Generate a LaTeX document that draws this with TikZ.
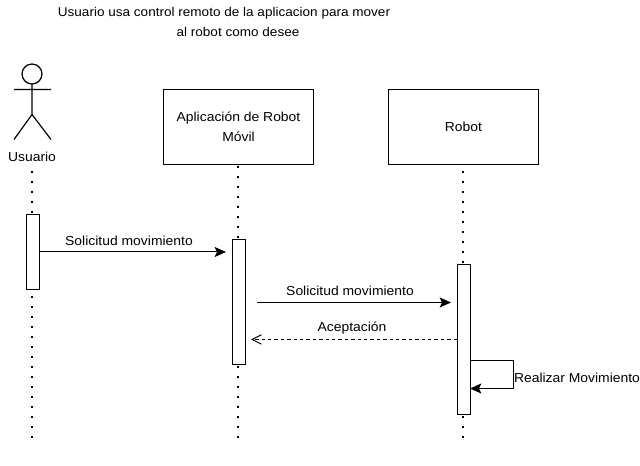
\documentclass[tikz,border=0pt]{standalone}
\usepackage{fontspec}
\setmainfont[FakeStretch=1.07]{Liberation Sans}
\usetikzlibrary{arrows.meta}
\tikzset{
  x=0.75pt,y=-0.75pt,
  every node/.style={font=\fontsize{9.75}{15}\selectfont,inner sep=0pt,outer sep=0pt,align=center},
  lifebox/.style={draw=black,fill=white,line width=0.75pt,minimum width=112.5pt,minimum height=56.25pt},
  activation/.style={draw=black,fill=white,line width=0.75pt,minimum width=9.75pt},
  lifeline/.style={line width=1.5pt,dash pattern=on 1.5pt off 6pt,black},
  msg/.style={draw=black,line width=0.75pt,-{Stealth[length=8.5pt,width=7.5pt,inset=1.8pt]}},
  reply/.style={draw=black,line width=0.75pt,dash pattern=on 2.6pt off 2.2pt,-{Straight Barb[length=7pt,width=7pt]}},
  actorline/.style={draw=black,line width=0.9pt},
  label/.style={fill=none}
}
\begin{document}
\begin{tikzpicture}
\useasboundingbox (0,0) rectangle (640,466);
\fill[white] (0,0) rectangle (640,466);
\node[font=\fontsize{9.5}{15}\selectfont] (title) at (238,21.5) {Usuario usa control remoto de la aplicacion para mover\rule{21pt}{0pt}\\al robot como desee};
% actor
\node[draw=black,circle,line width=0.9pt,minimum size=15pt] (head) at (32,74) {};
\coordinate (hip) at (32,114.5);
\coordinate (armL) at (14,89.5);
\coordinate (armR) at (51,89.5);
\coordinate (legL) at (14,139.5);
\coordinate (legR) at (51,139.5);
\draw[actorline] (head.south) -- (hip) (armL) -- (armR) (legL) -- (hip) -- (legR);
\node (usuario) at (32,157) {Usuario};
% boxes
\node[lifebox] (app) at (238.5,127) {Aplicación de Robot\\Móvil};
\node[lifebox] (robot) at (463.5,127) {Robot};
% activations
\node[activation,minimum height=56.25pt] (actU) at (32.5,252) {};
\node[activation,minimum height=93.75pt] (actA) at (238.5,302) {};
\node[activation,minimum height=112.5pt] (actR) at (463.5,339.5) {};
% lifelines
\coordinate (uTop) at (32,171);
\coordinate (uLow) at (32,296);
\coordinate (uEnd) at (32,439);
\coordinate (aTop) at (238,166);
\coordinate (aLow) at (238,366);
\coordinate (aEnd) at (238,439);
\coordinate (rTop) at (463,171);
\coordinate (rLow) at (463,416);
\coordinate (rEnd) at (463,439);
\draw[lifeline] (uTop) -- (actU.north -| uTop);
\draw[lifeline] (uLow) -- (uEnd);
\draw[lifeline] (aTop) -- (actA.north -| aTop);
\draw[lifeline] (aLow) -- (aEnd);
\draw[lifeline] (rTop) -- (actR.north -| rTop);
\draw[lifeline] (rLow) -- (rEnd);
% messages
\coordinate (m1e) at (226,252);
\coordinate (m2s) at (257,302.5);
\coordinate (m2e) at (451,302.5);
\coordinate (m3s) at (457,339.5);
\coordinate (m3e) at (251,339.5);
\coordinate (s1) at (470,360.5);
\coordinate (s2) at (513.7,360.5);
\coordinate (s3) at (513.7,388.5);
\coordinate (s4) at (470,388.5);
\draw[msg] (actU.east |- m1e) -- (m1e);
\draw[msg] (m2s) -- (m2e);
\draw[reply] (m3s) -- (m3e);
\draw[msg] (s1) -- (s2) -- (s3) -- (s4);
\node[label] (l1) at (129,240.5) {Solicitud movimiento};
\node[label] (l2) at (350,290.5) {Solicitud movimiento};
\node[label] (l3) at (352,328.5) {Aceptación};
\node[label,anchor=west] (l4) at (514,377.5) {Realizar Movimiento};
\end{tikzpicture}
\end{document}
